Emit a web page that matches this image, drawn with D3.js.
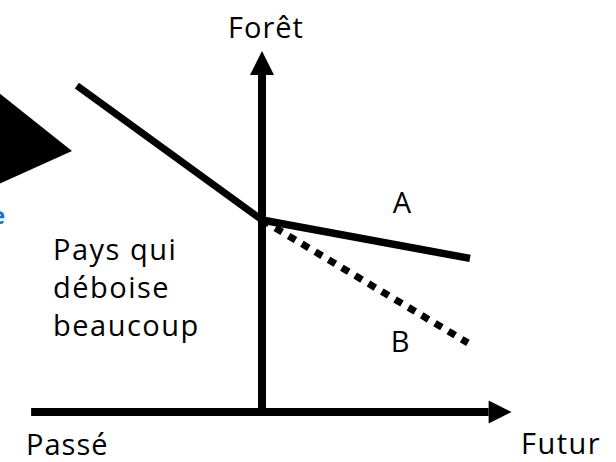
<!DOCTYPE html>
<html>
<head>
<meta charset="utf-8">
<script src="https://cdn.jsdelivr.net/npm/d3@7"></script>
<style>
  html, body { margin: 0; padding: 0; background: #fff; }
  svg text { font-family: "Open Sans", "Noto Sans", sans-serif; fill: #000; }
</style>
</head>
<body>
<div id="chart"></div>
<script>
// time runs from the past (negative) to the future (positive); 0 = today
var pastPath = [{t: -89, f: 85}, {t: 0, f: 50}];
var scenarioA = [{t: 0, f: 50}, {t: 100, f: 40}];
var scenarioB = [{t: 0, f: 50}, {t: 99, f: 18}];
var timeExtent = [-111, 120];
var forestExtent = [0, 94];
var lineLabels = ["Pays qui", "déboise", "beaucoup"];

var width = 616, height = 462;

var svg = d3.select("#chart")
  .append("svg")
  .attr("width", width)
  .attr("height", height);

var x = d3.scaleLinear()
  .domain([0, 100])
  .range([262, 470]);

var y = d3.scaleLinear()
  .domain([0, 100])
  .range([412, 28]);

var line = d3.line()
  .x(function (d) { return x(d.t); })
  .y(function (d) { return y(d.f); });

// decoration cut off at the left border
svg.append("path")
  .attr("d", "M-30,70 L72,151 L-30,197 Z")
  .attr("fill", "#000");

svg.append("text")
  .attr("x", -9)
  .attr("y", 224)
  .style("font-size", "24px")
  .style("font-weight", "bold")
  .style("fill", "#1f6fc4")
  .text("e");

// horizontal axis (time)
var head = 23;
svg.append("line")
  .attr("x1", x(timeExtent[0]))
  .attr("x2", x(timeExtent[1]) - head)
  .attr("y1", y(0))
  .attr("y2", y(0))
  .attr("stroke", "#000")
  .attr("stroke-width", 8);

svg.append("path")
  .attr("d", "M" + (x(timeExtent[1]) - head) + "," + (y(0) - 11.5) +
    " L" + x(timeExtent[1]) + "," + y(0) +
    " L" + (x(timeExtent[1]) - head) + "," + (y(0) + 11.5) + " Z")
  .attr("fill", "#000");

// vertical axis (forest)
svg.append("line")
  .attr("x1", x(0))
  .attr("x2", x(0))
  .attr("y1", y(0))
  .attr("y2", y(forestExtent[1]) + 24)
  .attr("stroke", "#000")
  .attr("stroke-width", 8);

svg.append("path")
  .attr("d", "M" + (x(0) - 12) + "," + (y(forestExtent[1]) + 24) +
    " L" + x(0) + "," + y(forestExtent[1]) +
    " L" + (x(0) + 12) + "," + (y(forestExtent[1]) + 24) + " Z")
  .attr("fill", "#000");

// forest cover lines
svg.append("path")
  .datum(pastPath)
  .attr("d", line)
  .attr("fill", "none")
  .attr("stroke", "#000")
  .attr("stroke-width", 7);

svg.append("path")
  .datum(scenarioA)
  .attr("d", line)
  .attr("fill", "none")
  .attr("stroke", "#000")
  .attr("stroke-width", 7.5);

svg.append("path")
  .datum(scenarioB)
  .attr("d", line)
  .attr("fill", "none")
  .attr("stroke", "#000")
  .attr("stroke-width", 7)
  .style("stroke-dasharray", "8,7.5");

// labels
svg.append("text")
  .attr("x", 228)
  .attr("y", 38)
  .style("font-size", "29px")
  .style("letter-spacing", "1px")
  .text("Forêt");

svg.append("text")
  .attr("x", 26)
  .attr("y", 455)
  .style("font-size", "29px")
  .style("letter-spacing", "1px")
  .text("Passé");

svg.append("text")
  .attr("x", 521)
  .attr("y", 454)
  .style("font-size", "29px")
  .style("letter-spacing", "1.5px")
  .text("Futur");

svg.append("text")
  .attr("x", 402)
  .attr("y", 213)
  .attr("text-anchor", "middle")
  .style("font-size", "29px")
  .text("A");

svg.append("text")
  .attr("x", 400)
  .attr("y", 352)
  .attr("text-anchor", "middle")
  .style("font-size", "29px")
  .text("B");

svg.selectAll(".desc")
  .data(lineLabels)
  .enter()
  .append("text")
  .attr("class", "desc")
  .attr("x", 53)
  .attr("y", function (d, i) { return 260 + i * 38; })
  .style("font-size", "29px")
  .style("letter-spacing", "1.5px")
  .text(function (d) { return d; });
</script>
</body>
</html>
